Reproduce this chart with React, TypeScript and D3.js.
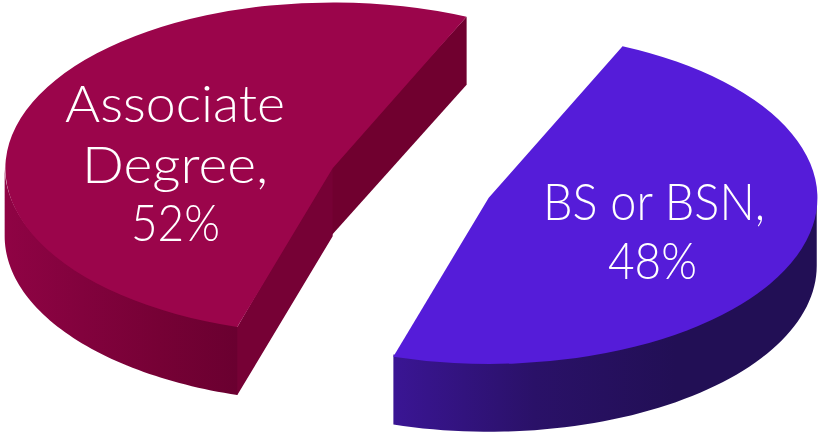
import React from "react";
import * as d3 from "d3";

// Share of nurses by degree, clockwise from the upper seam of the pie.
const categories = ["BS or BSN", "Associate Degree"];
const shares = [48, 52];
const labelLines = [["BS or BSN,"], ["Associate", "Degree,"]];
const topColors = ["#551cd9", "#9b054b"];
const wallStops = [
  ["#3a1594", "#2a1168", "#220f55", "#220f55"],
  ["#8f0344", "#82023d", "#760135", "#6a0030"],
];
const cutColors = ["#70002f", "#760135"];

const WIDTH = 820;
const HEIGHT = 432;
const RX = 328;
const RY = 166;
const DEPTH = 68;
const SEAM = (24.1 * Math.PI) / 180;
const EXPLODE = 0.254;
const PIE_X = 410.7;
const PIE_Y = 183;

const pie = d3
  .pie<number>()
  .sort(null)
  .startAngle(SEAM)
  .endAngle(SEAM + 2 * Math.PI);
const slices = pie(shares);
const arc = d3.arc<d3.PieArcDatum<number>>().innerRadius(0).outerRadius(1);
const edge = d3.line<[number, number]>();

// Angles in the pie's convention: clockwise from twelve o'clock.
const onRim = (cx: number, cy: number, a: number): [number, number] => [
  cx + RX * Math.sin(a),
  cy - RY * Math.cos(a),
];

function rimWall(cx: number, cy: number, from: number, to: number) {
  const angles = d3.range(0, 61).map((i) => from + ((to - from) * i) / 60);
  const rim = angles.map((a) => onRim(cx, cy, a));
  // The upper edge tucks under the top face so no light seam shows between them.
  const upper = rim.map(([x, y]) => [x, y - 2] as [number, number]);
  const lower = [...rim].reverse().map(([x, y]) => [x, y + DEPTH] as [number, number]);
  return edge([...upper, ...lower]) + "Z";
}

function Slice({ index }: { index: number }) {
  const d = slices[index];
  const mid = (d.startAngle + d.endAngle) / 2;
  const cx = PIE_X + EXPLODE * RX * Math.sin(mid);
  const cy = PIE_Y - EXPLODE * RY * Math.cos(mid);

  // Only the part of the rim that faces the viewer shows a wall.
  const wallFrom = Math.max(d.startAngle, Math.PI / 2);
  const wallTo = Math.min(d.endAngle, (3 * Math.PI) / 2);
  const gradientId = `wall-${index}`;
  const wallX = d3.extent([wallFrom, wallTo].map((a) => onRim(cx, cy, a)[0])) as [number, number];

  const isLeft = index === 1;
  // The slice starts at its lower-left corner and ends at its upper-right one.
  const [lx, ly] = onRim(cx, cy, d.startAngle);
  const [ux, uy] = onRim(cx, cy, d.endAngle);

  // The two visible cut faces overlap slightly under their neighbours.
  const upperCut =
    edge([
      [ux, uy],
      [cx - 2, cy - 2],
      [cx - 1, cy + DEPTH - 1],
      [ux, uy + DEPTH],
    ]) + "Z";
  const lowerCut =
    edge([
      [lx, ly],
      [lx - 1, ly],
      [lx - 1, ly + DEPTH - 1],
      [lx, ly + DEPTH],
      [cx, cy + DEPTH],
      [cx, cy - 2],
      [cx - 2, cy - 2],
    ]) + "Z";

  return (
    <g>
      <defs>
        <linearGradient
          id={gradientId}
          gradientUnits="userSpaceOnUse"
          x1={wallX[0]}
          x2={wallX[1]}
          y1={0}
          y2={0}
        >
          {wallStops[index].map((c, i) => (
            <stop key={i} offset={i / (wallStops[index].length - 1)} stopColor={c} />
          ))}
        </linearGradient>
      </defs>
      {isLeft && <path d={upperCut} fill={cutColors[0]} />}
      {isLeft && <path d={lowerCut} fill={cutColors[1]} />}
      <path d={rimWall(cx, cy, wallFrom, wallTo)} fill={`url(#${gradientId})`} />
      <path
        d={arc(d) ?? ""}
        transform={`translate(${cx},${cy}) scale(${RX},${RY})`}
        fill={topColors[index]}
      />
    </g>
  );
}

// Each label line: centre x, baseline y and set width.
const labelPositions = [
  [
    { x: 654, y: 220, w: 222 },
    { x: 652.5, y: 279, w: 89 },
  ],
  [
    { x: 175, y: 122, w: 220 },
    { x: 175, y: 183, w: 186 },
    { x: 175.5, y: 241, w: 89 },
  ],
];

export default function App() {
  return (
    <svg
      width={WIDTH}
      height={HEIGHT}
      viewBox={`0 0 ${WIDTH} ${HEIGHT}`}
      style={{ position: "fixed", left: 0, top: 0, display: "block", background: "#fff" }}
    >
      {slices.map((_, i) => (
        <Slice key={i} index={i} />
      ))}
      {categories.map((c, i) => {
        const lines = [...labelLines[i], `${shares[i]}%`];
        return lines.map((line, k) => {
          const pos = labelPositions[i][k];
          return (
            <text
              key={`${c}-${k}`}
              x={pos.x}
              y={pos.y}
              textAnchor="middle"
              textLength={pos.w}
              lengthAdjust="spacingAndGlyphs"
              fontFamily="Lato, 'Open Sans', sans-serif"
              fontWeight={300}
              fontSize={51}
              fill="#ffffff"
            >
              {line}
            </text>
          );
        });
      })}
    </svg>
  );
}
